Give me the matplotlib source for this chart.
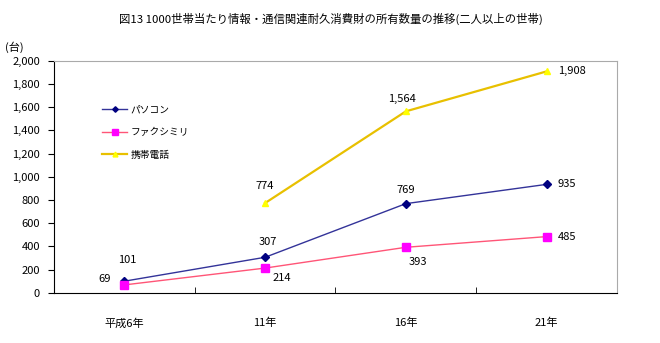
import matplotlib
matplotlib.use('Agg')
import matplotlib.pyplot as plt

plt.rcParams['font.family'] = ['Noto Sans CJK JP', 'DejaVu Sans']

# Data
years = ['平成6年', '11年', '16年', '21年']
pc = [101, 307, 769, 935]
fax = [69, 214, 393, 485]
phone = [None, 774, 1564, 1908]

fig = plt.figure(figsize=(6.6, 3.43), dpi=100)
ax = fig.add_axes([0.0818, 0.146, 0.853, 0.677])

x = list(range(len(years)))
ax.plot(x, pc, color='#333399', lw=1, marker='D', ms=4,
        mfc='#000080', mec='#000080', label='パソコン')
ax.plot(x, fax, color='#FF5577', lw=1, marker='s', ms=6,
        mfc='#FF00FF', mec='#FF00FF', label='ファクシミリ')
ax.plot(x[1:], phone[1:], color='#E8C000', lw=1.6, marker='^', ms=5,
        mfc='#FFFF00', mec='#FFFF00', label='携帯電話')

# data labels
fs = 8
ax.annotate('101', (0, pc[0]), xytext=(2, 13), textcoords='offset points', ha='center', fontsize=fs)
ax.annotate('69', (0, fax[0]), xytext=(-14, 2), textcoords='offset points', ha='center', fontsize=fs)
ax.annotate('307', (1, pc[1]), xytext=(2, 9), textcoords='offset points', ha='center', fontsize=fs)
ax.annotate('214', (1, fax[1]), xytext=(12, -9), textcoords='offset points', ha='center', fontsize=fs)
ax.annotate('774', (1, phone[1]), xytext=(0, 10), textcoords='offset points', ha='center', fontsize=fs)
ax.annotate('769', (2, pc[2]), xytext=(0, 8), textcoords='offset points', ha='center', fontsize=fs)
ax.annotate('393', (2, fax[2]), xytext=(9, -13), textcoords='offset points', ha='center', fontsize=fs)
ax.annotate('1,564', (2, phone[2]), xytext=(-3, 7), textcoords='offset points', ha='center', fontsize=fs)
ax.annotate('935', (3, pc[3]), xytext=(8, 0), textcoords='offset points', ha='left', va='center', fontsize=fs)
ax.annotate('485', (3, fax[3]), xytext=(8, 0), textcoords='offset points', ha='left', va='center', fontsize=fs)
ax.annotate('1,908', (3, phone[3]), xytext=(8, 0), textcoords='offset points', ha='left', va='center', fontsize=fs)

ax.set_xlim(-0.5, 3.5)
ax.set_ylim(0, 2000)
ax.set_yticks(range(0, 2001, 200))
ax.set_yticklabels([f'{v:,}' for v in range(0, 2001, 200)], fontsize=8)
ax.set_xticks(x)
ax.set_xticklabels(years, fontsize=8)
ax.set_xticks([0.5, 1.5, 2.5], minor=True)
ax.tick_params(axis='x', which='major', length=0, pad=18)
ax.tick_params(axis='x', which='minor', length=4, direction='in')
ax.tick_params(axis='y', length=4, direction='out', pad=6)

ax.spines['top'].set_color('#AAAAAA')
ax.spines['right'].set_color('#AAAAAA')
ax.spines['left'].set_color('black')
ax.spines['bottom'].set_color('black')

leg = ax.legend(loc='upper left', bbox_to_anchor=(0.07, 0.85), frameon=False,
                fontsize=7, handlelength=2.6, handletextpad=0.3,
                labelspacing=1.3, markerscale=0.7)

fig.text(0.502, 0.945, '図13 1000世帯当たり情報・通信関連耐久消費財の所有数量の推移(二人以上の世帯)',
         ha='center', va='center', fontsize=8.2)
fig.text(0.008, 0.862, '(台)', ha='left', va='center', fontsize=8)

fig.savefig('out.png', dpi=100)
